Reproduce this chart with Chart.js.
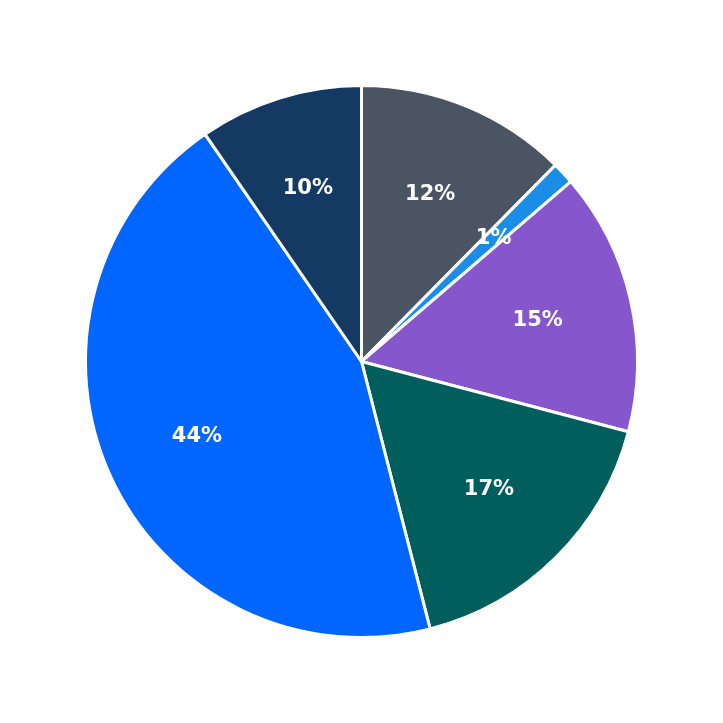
<!DOCTYPE html>
<html><head><meta charset="utf-8">
<script src="https://cdn.jsdelivr.net/npm/chart.js@4"></script>
<style>html,body{margin:0;padding:0;background:#fff}#w{width:723px;height:723px}</style>
</head><body><div id="w"><canvas id="c"></canvas></div>
<script>
const categories = ["A","B","C","D","E","F"];
const values = [12.4, 1.3, 15.4, 16.9, 44.4, 9.6];
const colors = ["#4a5463","#1a8ee6","#8556cc","#005e5c","#0066ff","#143a64"];
const labelPlugin = {
  id:'lbl',
  afterDatasetsDraw(chart){
    const ctx = chart.ctx, meta = chart.getDatasetMeta(0);
    const total = values.reduce((a,b)=>a+b,0);
    ctx.save();
    ctx.fillStyle='#fff'; ctx.font='bold 21px "DejaVu Sans"';
    ctx.textAlign='center'; ctx.textBaseline='middle';
    meta.data.forEach((arc,i)=>{
      const p = arc.getProps(['x','y','startAngle','endAngle','outerRadius'],true);
      const a = (p.startAngle+p.endAngle)/2, r = p.outerRadius*0.655;
      ctx.fillText(Math.round(values[i]/total*100)+'%', p.x+Math.cos(a)*r, p.y+Math.sin(a)*r);
    });
    ctx.restore();
  }
};
new Chart(document.getElementById('c'),{
  type:'pie',
  data:{labels:categories,datasets:[{data:values,backgroundColor:colors,borderColor:'#fff',borderWidth:3}]},
  options:{responsive:true,maintainAspectRatio:false,animation:false,
    layout:{padding:84},
    plugins:{legend:{display:false},tooltip:{enabled:false}}},
  plugins:[labelPlugin]
});
</script></body></html>
